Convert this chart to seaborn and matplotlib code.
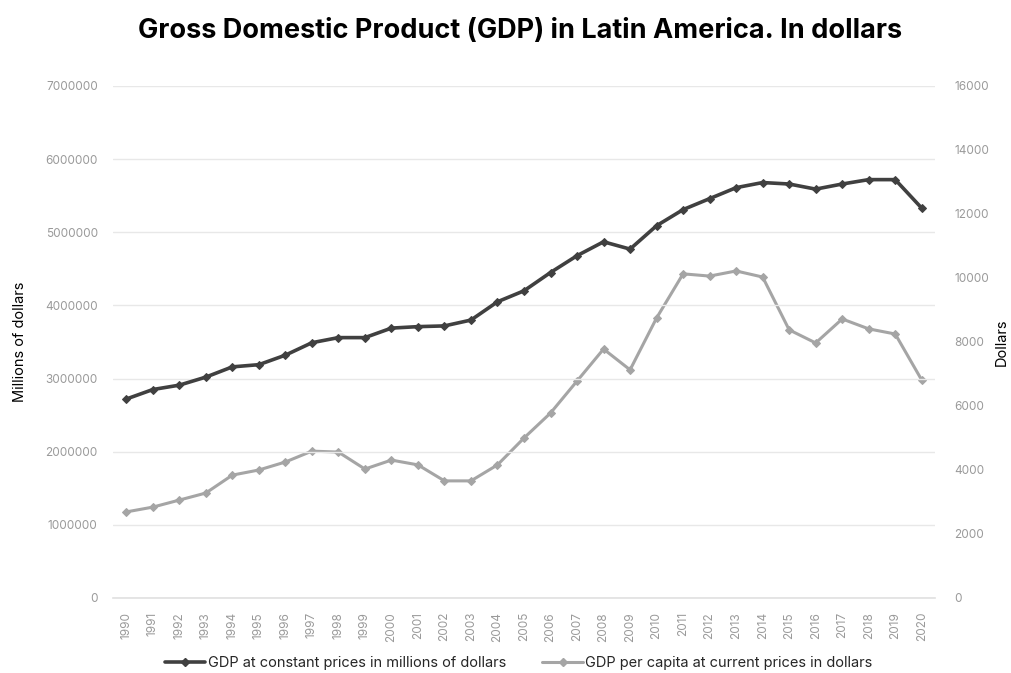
import matplotlib
matplotlib.use("Agg")
import matplotlib.pyplot as plt
import seaborn as sns
import pandas as pd
import numpy as np

years = [str(y) for y in range(1990, 2021)]
gdp_constant = [2720000, 2850000, 2910000, 3020000, 3160000, 3190000, 3320000, 3490000,
                3560000, 3560000, 3690000, 3710000, 3720000, 3800000, 4050000, 4200000,
                4450000, 4680000, 4870000, 4770000, 5090000, 5310000, 5460000, 5610000,
                5680000, 5660000, 5590000, 5660000, 5720000, 5720000, 5330000]
gdp_per_capita = [2690, 2840, 3060, 3280, 3840, 4000, 4250, 4590, 4560, 4030, 4310,
                  4160, 3660, 3660, 4160, 5000, 5780, 6780, 7780, 7130, 8750, 10130,
                  10060, 10220, 10030, 8380, 7970, 8720, 8410, 8250, 6810]
left_ticks = [0, 1000000, 2000000, 3000000, 4000000, 5000000, 6000000, 7000000]
right_ticks = [0, 2000, 4000, 6000, 8000, 10000, 12000, 14000, 16000]

label1 = "GDP at constant prices in millions of dollars"
label2 = "GDP per capita at current prices in dollars"
title = "Gross Domestic Product (GDP) in Latin America. In dollars"

sns.set_theme(style="white")
plt.rcParams['font.family'] = ['Inter', 'DejaVu Sans']

df = pd.DataFrame({"year": years, "gdp": gdp_constant, "pc": gdp_per_capita})
df["pos"] = np.arange(len(years))

fig = plt.figure(figsize=(10.11, 6.73), dpi=100)
ax = fig.add_axes([113 / 1011, 1 - 598 / 673, (935 - 113) / 1011, (598 - 86) / 673])
ax2 = ax.twinx()

dark = "#404040"
light = "#a5a5a5"
tick_col = "#9a9a9a"

sns.lineplot(data=df, x="pos", y="pc", ax=ax2, color=light, linewidth=2.2,
             marker="D", markersize=4.5, markeredgecolor=light, zorder=2)
sns.lineplot(data=df, x="pos", y="gdp", ax=ax, color=dark, linewidth=2.6,
             marker="D", markersize=4.5, markeredgecolor=dark, zorder=3)

ax.set_zorder(ax2.get_zorder() + 1)
ax.patch.set_visible(False)

ax.set_xlim(-0.5, len(years) - 0.5)
ax.set_ylim(0, 7000000)
ax2.set_ylim(0, 16000)
ax.set_yticks(left_ticks)
ax.set_yticklabels([str(t) for t in left_ticks])
ax2.set_yticks(right_ticks)
ax2.set_yticklabels([str(t) for t in right_ticks])
ax.set_xticks(df["pos"])
ax.set_xticklabels(years, rotation=90)

ax.grid(axis="y", color="#e8e8e8", linewidth=1)
ax2.grid(False)
for a in (ax, ax2):
    for s in a.spines.values():
        s.set_visible(False)
ax.spines["bottom"].set_visible(True)
ax.spines["bottom"].set_color("#e0e0e0")
ax.spines["bottom"].set_linewidth(1.2)

ax.tick_params(axis="y", labelsize=8.5, labelcolor=tick_col, length=0, pad=11)
ax2.tick_params(axis="y", labelsize=8.5, labelcolor=tick_col, length=0, pad=14)
ax.tick_params(axis="x", labelsize=8.5, labelcolor=tick_col, length=0, pad=10)

ax.set_xlabel("")
ax.set_ylabel("Millions of dollars", fontsize=10.5, color="black", labelpad=13)
ax2.set_ylabel("Dollars", fontsize=10.5, color="black", labelpad=4)

fig.text(520 / 1011, 1 - 31 / 673, title, ha="center", va="center",
         fontsize=19.5, fontweight="bold", color="black")

h1 = plt.Line2D([], [], color=dark, linewidth=2.6, marker="D", markersize=4.5)
h2 = plt.Line2D([], [], color=light, linewidth=2.2, marker="D", markersize=4.5)
fig.legend([h1, h2], [label1, label2], loc="center", ncol=2,
           bbox_to_anchor=(0.513, 1 - 663 / 673), frameon=False, fontsize=10.5,
           handlelength=2.8, handletextpad=0.15, columnspacing=2.5)

fig.savefig("out.png", dpi=100)
